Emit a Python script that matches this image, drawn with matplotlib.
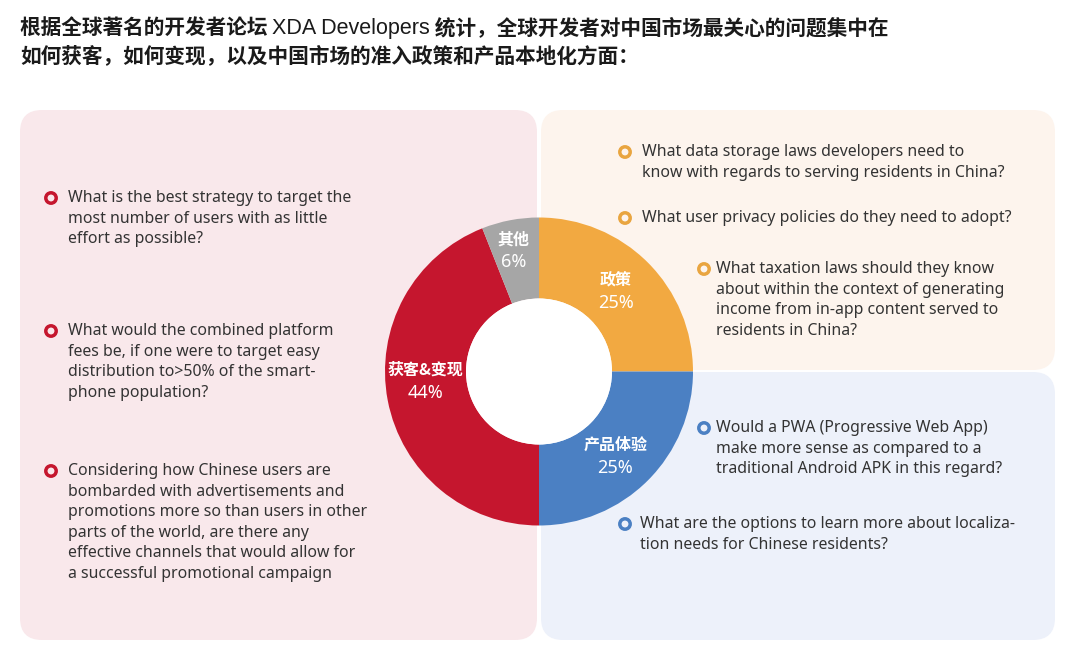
import matplotlib
matplotlib.use('Agg')
import numpy as np
import matplotlib.pyplot as plt
from matplotlib.patches import FancyBboxPatch, Circle

plt.rcParams['font.family'] = ['Noto Sans CJK SC', 'DejaVu Sans']

# data
categories = ['政策', '产品体验', '获客&变现', '其他']
shares = [25, 25, 44, 6]
slice_colors = ['#f2a941', '#4b80c3', '#c5162e', '#a6a6a6']

# title split into pieces: (text, bold?)
title_line1 = [('根据全球著名的开发者论坛 ', True), ('XDA Developers', False),
               (' 统计，全球开发者对中国市场最关心的问题集中在', True)]
title_line2 = '如何获客，如何变现，以及中国市场的准入政策和产品本地化方面：'

questions_left = [
    ['What is the best strategy to target the',
     'most number of users with as little',
     'effort as possible?'],
    ['What would the combined platform',
     'fees be, if one were to target easy',
     'distribution to>50% of the smart-',
     'phone population?'],
    ['Considering how Chinese users are',
     'bombarded with advertisements and',
     'promotions more so than users in other',
     'parts of the world, are there any',
     'effective channels that would allow for',
     'a successful promotional campaign'],
]
questions_policy = [
    ['What data storage laws developers need to',
     'know with regards to serving residents in China?'],
    ['What user privacy policies do they need to adopt?'],
    ['What taxation laws should they know',
     'about within the context of generating',
     'income from in-app content served to',
     'residents in China?'],
]
questions_product = [
    ['Would a PWA (Progressive Web App)',
     'make more sense as compared to a',
     'traditional Android APK in this regard?'],
    ['What are the options to learn more about localiza-',
     'tion needs for Chinese residents?'],
]

W, H = 1080, 669
fig = plt.figure(figsize=(W / 100, H / 100), dpi=100)
ax = fig.add_axes([0, 0, 1, 1])
ax.set_xlim(0, W)
ax.set_ylim(H, 0)
ax.axis('off')

# background panels
panels = [(20, 110, 517, 530, '#f9e8eb'),
          (541, 110, 514, 260, '#fdf4ed'),
          (541, 372, 514, 268, '#edf1fa')]
for x0, y0, w, h, c in panels:
    ax.add_patch(FancyBboxPatch((x0, y0), w, h, boxstyle='round,pad=0,rounding_size=22',
                                fc=c, ec='none', zorder=0))

# title
renderer = fig.canvas.get_renderer()
x = 20
for s, bold in title_line1:
    if bold:
        t = ax.text(x, 34, s, fontsize=14.9, fontweight='bold', color='#1a1a1a',
                    va='baseline', ha='left')
    else:
        t = ax.text(x, 34, s, fontsize=15.5, color='#1a1a1a', family=['Liberation Sans'],
                    va='baseline', ha='left')
    x += t.get_window_extent(renderer).width
ax.text(20, 62, title_line2, fontsize=14.9, fontweight='bold', color='#1a1a1a',
        va='baseline', ha='left')

# questions
txt_font = ['Noto Sans', 'DejaVu Sans']
line_h = 20.6


def draw_question(bx, ty, tx, lines, color):
    ax.add_patch(Circle((bx, ty), 5.2, fc='none', ec=color, lw=2.5, zorder=3))
    for k, s in enumerate(lines):
        ax.text(tx, ty + k * line_h, s, fontsize=11.4, color='#333333', family=txt_font,
                va='center', ha='left')


for y, q in zip([198, 331, 471], questions_left):
    draw_question(51, y, 68, q, '#c5162e')
for (bx, y, tx), q in zip([(625, 152, 642), (625, 218, 642), (704, 269, 716)], questions_policy):
    draw_question(bx, y, tx, q, '#e9a540')
for (bx, y, tx), q in zip([(704, 428, 716), (625, 524, 640)], questions_product):
    draw_question(bx, y, tx, q, '#4b80c3')

# donut
cx, cy, r_out, r_in = 539, 371.5, 154, 73
pax = fig.add_axes([(cx - r_out) / W, (H - cy - r_out) / H, 2 * r_out / W, 2 * r_out / H])
pax.set_facecolor('none')
wedges, _ = pax.pie(shares, colors=slice_colors, startangle=90, counterclock=False,
                    radius=1, wedgeprops=dict(width=1 - r_in / r_out, linewidth=0))
pax.add_patch(Circle((0, 0), r_in / r_out, fc='white', ec='none', zorder=5))
pax.set_xlim(-1, 1)
pax.set_ylim(-1, 1)
pax.set_aspect('equal')
pax.axis('off')

label_r = [0.72, 0.74, 0.74, 0.80]
label_turn = [1, -3, -6, 1]
for w, name, val, rr, dt in zip(wedges, categories, shares, label_r, label_turn):
    ang = np.deg2rad((w.theta1 + w.theta2) / 2 + dt)
    lx, ly = rr * np.cos(ang), rr * np.sin(ang)
    pax.text(lx, ly + 0.075, name, color='white', fontsize=11.5, fontweight='bold',
             ha='center', va='center', zorder=6)
    pax.text(lx, ly - 0.075, f'{val}%', color='white', fontsize=13, family=txt_font,
             ha='center', va='center', zorder=6)

fig.savefig('out.png', dpi=100, facecolor='white')
